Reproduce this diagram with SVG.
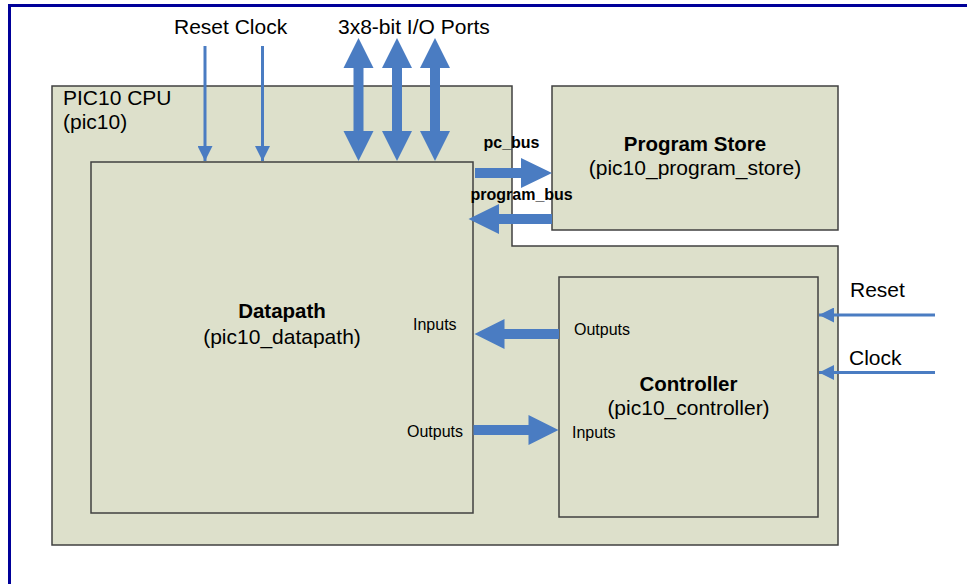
<svg xmlns="http://www.w3.org/2000/svg" width="967" height="584" viewBox="0 0 967 584">
<defs>
<style>
.box{fill:#dde0cb;stroke:#404040;stroke-width:1.5}
.t{font-family:"Liberation Sans",Arial,sans-serif;fill:#000}
.big{font-size:21px}
.bold{font-size:20.5px;font-weight:bold}
.sm{font-size:16px}
.smb{font-size:16px;font-weight:bold}
.thin{stroke:#4a7cc2;stroke-width:3;fill:none}
.fat{fill:#4a7cc2}
</style>
<marker id="ah" markerWidth="15" markerHeight="15" viewBox="0 0 15 15" refX="15" refY="7.5" orient="auto" markerUnits="userSpaceOnUse">
<path d="M0,0 L15,7.5 L0,15 Z" fill="#4a7cc2"/>
</marker>
</defs>
<rect width="967" height="584" fill="#fff"/>
<path d="M9.5,584 V5.5 H967" fill="none" stroke="#000099" stroke-width="3"/>

<g id="cpu">
<path class="box" d="M52,86 H512 V246 H838 V545 H52 Z"/>
<text class="t big" x="63" y="105">PIC10 CPU</text>
<text class="t big" x="63" y="129">(pic10)</text>
</g>

<g id="program_store">
<rect class="box" x="552" y="86" width="286" height="144"/>
<text class="t bold" x="695" y="151" text-anchor="middle">Program Store</text>
<text class="t big" x="695" y="175" text-anchor="middle">(pic10_program_store)</text>
</g>

<g id="datapath">
<rect class="box" x="91" y="162" width="382" height="351"/>
<text class="t bold" x="282" y="318" text-anchor="middle">Datapath</text>
<text class="t big" x="282" y="344" text-anchor="middle">(pic10_datapath)</text>
<text class="t sm" x="413" y="330">Inputs</text>
<text class="t sm" x="407" y="437">Outputs</text>
</g>

<g id="controller">
<rect class="box" x="559" y="277" width="259" height="240"/>
<text class="t bold" x="688.5" y="391" text-anchor="middle">Controller</text>
<text class="t big" x="688.5" y="415" text-anchor="middle">(pic10_controller)</text>
<text class="t sm" x="574" y="335">Outputs</text>
<text class="t sm" x="572" y="438">Inputs</text>
</g>

<g id="external_labels">
<text class="t big" x="174" y="34">Reset Clock</text>
<text class="t big" x="338" y="34">3x8-bit I/O Ports</text>
<text class="t big" x="850" y="297">Reset</text>
<text class="t big" x="849" y="365">Clock</text>
</g>

<g id="connectors">
<line class="thin" x1="205" y1="46" x2="205" y2="161" marker-end="url(#ah)"/>
<line class="thin" x1="262.5" y1="46" x2="262.5" y2="161" marker-end="url(#ah)"/>
<line class="thin" x1="935" y1="315" x2="819" y2="315" marker-end="url(#ah)"/>
<line class="thin" x1="935" y1="372.5" x2="819" y2="372.5" marker-end="url(#ah)"/>
<path class="fat" d="M358.5,38 L373.5,68 L363.5,68 L363.5,131 L373.5,131 L358.5,161 L343.5,131 L353.5,131 L353.5,68 L343.5,68 Z"/>
<path class="fat" d="M397,38 L412,68 L402,68 L402,131 L412,131 L397,161 L382,131 L392,131 L392,68 L382,68 Z"/>
<path class="fat" d="M435,38 L450,68 L440,68 L440,131 L450,131 L435,161 L420,131 L430,131 L430,68 L420,68 Z"/>
<path class="fat" d="M475,168 L521,168 L521,158 L552,173 L521,188 L521,178 L475,178 Z"/>
<path class="fat" d="M552,214 L499,214 L499,204 L468.5,219 L499,234 L499,224 L552,224 Z"/>
<path class="fat" d="M559,329 L504.5,329 L504.5,319 L474.5,334 L504.5,349 L504.5,339 L559,339 Z"/>
<path class="fat" d="M473.5,425 L528.5,425 L528.5,415 L558.5,430 L528.5,445 L528.5,435 L473.5,435 Z"/>
<text class="t smb" x="483.5" y="148">pc_bus</text>
<text class="t smb" x="470.5" y="199.5">program_bus</text>
</g>
</svg>
